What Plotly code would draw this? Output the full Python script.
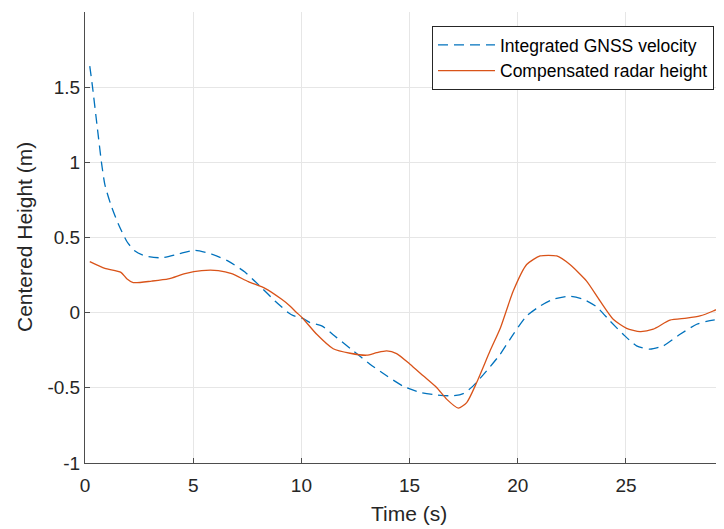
import plotly.graph_objects as go

# Integrated GNSS velocity (blue dashed)
gnss_t = [0.22, 0.34, 0.57, 0.77, 0.92, 1.19, 1.54, 1.95, 2.31, 2.77, 3.54, 4.31, 5.08, 5.85,
          6.62, 7.39, 8.16, 8.78, 9.4, 9.63, 10.09, 10.4, 10.94, 11.63, 12.4, 13.17, 13.94,
          14.71, 15.48, 16.25, 17.02, 17.48, 17.94, 18.56, 19.17, 19.79, 20.41, 21.03, 21.64,
          22.41, 23.03, 23.65, 24.26, 24.87, 25.49, 26.11, 26.72, 27.5, 28.27, 29.03, 29.6]
gnss_h = [1.64, 1.51, 1.23, 0.99, 0.85, 0.72, 0.59, 0.47, 0.41, 0.377, 0.365, 0.39, 0.415, 0.39,
          0.343, 0.27, 0.166, 0.078, 0.0, -0.02, -0.04, -0.066, -0.088, -0.166, -0.254, -0.343, -0.42,
          -0.49, -0.53, -0.547, -0.553, -0.538, -0.487, -0.387, -0.28, -0.144, -0.022, 0.044, 0.089,
          0.109, 0.089, 0.038, -0.055, -0.144, -0.221, -0.243, -0.221, -0.144, -0.077, -0.049, -0.044]

# Compensated radar height (orange solid)
radar_t = [0.22, 0.92, 1.66, 1.93, 2.23, 3.08, 3.85, 4.62, 5.39, 6.16, 6.78, 7.55, 8.32, 9.09,
           9.47, 9.75, 10.05, 10.71, 11.47, 12.25, 13.02, 13.48, 13.94, 14.4, 15.02, 15.63, 16.25,
           16.71, 17.25, 17.64, 18.1, 18.72, 19.2, 19.79, 20.41, 21.03, 21.8, 22.41, 23.18, 23.8,
           24.41, 25.03, 25.65, 26.26, 27.03, 27.8, 28.42, 29.03, 29.6]
radar_h = [0.34, 0.295, 0.268, 0.226, 0.2, 0.21, 0.224, 0.26, 0.28, 0.28, 0.26, 0.206, 0.162, 0.089,
           0.045, 0.005, -0.035, -0.144, -0.24, -0.27, -0.283, -0.266, -0.254, -0.272, -0.343, -0.42, -0.498,
           -0.575, -0.635, -0.598, -0.465, -0.254, -0.1, 0.144, 0.32, 0.377, 0.377, 0.32, 0.21, 0.078,
           -0.044, -0.104, -0.126, -0.11, -0.05, -0.037, -0.022, 0.011, 0.05]

x_ticks = [0, 5, 10, 15, 20, 25]
y_ticks = [-1, -0.5, 0, 0.5, 1, 1.5]
y_ticktext = ["-1", "-0.5", "0", "0.5", "1", "1.5"]

FONT = "Liberation Sans, Arial, Helvetica, sans-serif"
AX = "#4d4d4d"

fig = go.Figure()
fig.add_trace(go.Scatter(x=gnss_t, y=gnss_h, mode="lines", name="Integrated GNSS velocity",
                         line=dict(color="#0072BD", width=1.3, dash="10px,6px", shape="spline", smoothing=0.6)))
fig.add_trace(go.Scatter(x=radar_t, y=radar_h, mode="lines", name="Compensated radar height",
                         line=dict(color="#D95319", width=1.3, shape="spline", smoothing=0.6)))

fig.update_layout(
    width=716, height=521,
    margin=dict(l=77, r=0, t=4, b=66),
    paper_bgcolor="white", plot_bgcolor="white",
    font=dict(family=FONT, color="#262626", size=19),
    showlegend=True,
    legend=dict(x=(432 - 85) / 639, y=(463 - 26) / 451, xanchor="left", yanchor="top",
                bgcolor="white", bordercolor="#262626", borderwidth=1,
                font=dict(size=17.5, color="#000000"), tracegroupgap=0,
                itemwidth=57),
    xaxis=dict(range=[0, 29.53], tickvals=x_ticks, ticks="inside", ticklen=5, tickcolor=AX,
               showline=True, linecolor=AX, linewidth=1, showgrid=True, gridcolor="#e6e6e6",
               gridwidth=1, zeroline=False, tickfont=dict(size=19, color="#262626"),
               ticklabelstandoff=5),
    xaxis2=dict(range=[0, 29.53], tickvals=x_ticks, ticks="inside", ticklen=5, tickcolor=AX,
                showline=True, linecolor=AX, linewidth=1, showgrid=False, zeroline=False,
                overlaying="x", side="top", showticklabels=False),
    yaxis=dict(range=[-1, 2], tickvals=y_ticks, ticktext=y_ticktext, ticks="inside", ticklen=5,
               tickcolor=AX, showline=True, linecolor=AX, linewidth=1, showgrid=True,
               gridcolor="#e6e6e6", gridwidth=1, zeroline=False,
               tickfont=dict(size=19, color="#262626")),
    annotations=[
        dict(text="Time (s)", x=(408.5 - 85) / 639, y=(463 - 513) / 451, xref="paper", yref="paper",
             xanchor="center", yanchor="middle", showarrow=False, font=dict(size=21, color="#262626")),
        dict(text="Centered Height (m)", x=(24.5 - 85) / 639, y=0.5, xref="paper", yref="paper",
             xanchor="center", yanchor="middle", textangle=-90, showarrow=False,
             font=dict(size=21, color="#262626")),
    ],
)

fig.write_html("out.html")
